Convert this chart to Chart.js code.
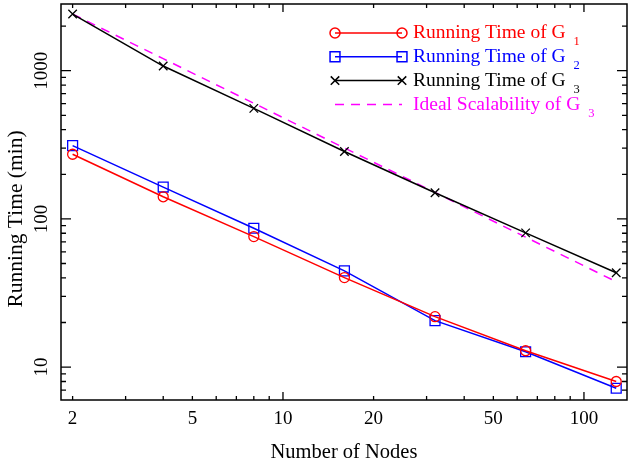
<!DOCTYPE html>
<html>
<head>
<meta charset="utf-8">
<script src="https://cdn.jsdelivr.net/npm/chart.js@4.4.1/dist/chart.umd.min.js"></script>
<style>
  html, body { margin: 0; padding: 0; background: #fff; }
  #wrap { width: 629px; height: 468px; }
</style>
</head>
<body>
<div id="wrap"><canvas id="chartCanvas" width="629" height="468"></canvas></div>
<script>
// data
const nodes = [2, 4, 8, 16, 32, 64, 128];
const timeG1 = [273, 141, 76, 40.2, 21.9, 12.9, 8.0];
const timeG2 = [312, 164, 86.5, 44.6, 20.6, 12.7, 7.2];
const timeG3 = [2410, 1075, 557, 285, 150, 80.5, 43.3];
const idealG3 = [2410, 1205, 603, 301, 151, 75.3, 37.7];

const seriesNames = ["Running Time of G", "Running Time of G", "Running Time of G", "Ideal Scalability of G"];
const seriesSubs = ["1", "2", "3", "3"];

const xTickVals = [2, 3, 4, 5, 6, 7, 8, 9, 10, 20, 30, 40, 50, 60, 70, 80, 90, 100];
const xTickLabels = [2, 5, 10, 20, 50, 100];
const yTickVals = [7, 8, 9, 10, 20, 30, 40, 50, 60, 70, 80, 90, 100, 200, 300, 400, 500, 600, 700, 800, 900, 1000, 2000];
const yTickLabels = [10, 100, 1000];
const majorVals = [10, 100, 1000];
const yTitle = "Running Time (min)";

const serif = "'Liberation Serif', 'DejaVu Serif', serif";

function pts(ys) {
    return nodes.map((n, i) => ({x: n, y: ys[i]}));
}

// draws the frame, inward ticks on all sides, rotated y labels/title and the gnuplot-like legend
const framePlugin = {
    id: 'frame_ticks_legend',
    afterDraw: (chart) => {
        const {ctx, chartArea} = chart;
        const xs = chart.scales.x, ys = chart.scales.y;
        const L = chartArea.left, R = chartArea.right, T = chartArea.top, B = chartArea.bottom;
        ctx.save();
        ctx.strokeStyle = '#000';
        ctx.lineWidth = 1.3;
        ctx.beginPath();
        xTickVals.forEach(v => {
            const px = xs.getPixelForValue(v);
            const len = majorVals.includes(v) ? 8 : 4;
            ctx.moveTo(px, B); ctx.lineTo(px, B - len);
            ctx.moveTo(px, T); ctx.lineTo(px, T + len);
        });
        yTickVals.forEach(v => {
            const py = ys.getPixelForValue(v);
            if (py < T || py > B) return;
            const len = majorVals.includes(v) ? 10 : 5;
            ctx.moveTo(L, py); ctx.lineTo(L + len, py);
            ctx.moveTo(R, py); ctx.lineTo(R - len, py);
        });
        ctx.stroke();
        ctx.lineWidth = 1.5;
        ctx.strokeRect(L, T, R - L, B - T);

        // y tick labels and title, rotated like the original
        ctx.fillStyle = '#000';
        ctx.font = "19px " + serif;
        ctx.textAlign = 'center';
        ctx.textBaseline = 'middle';
        yTickLabels.forEach(v => {
            const py = ys.getPixelForValue(v);
            ctx.save();
            ctx.translate(42, py);
            ctx.rotate(-Math.PI / 2);
            ctx.fillText(String(v), 0, 0);
            ctx.restore();
        });
        ctx.save();
        ctx.font = "21.5px " + serif;
        ctx.translate(16, 219);
        ctx.rotate(-Math.PI / 2);
        ctx.fillText(yTitle, 0, 0);
        ctx.restore();

        // legend
        const x0 = 335, x1 = 402, tx = 413;
        chart.data.datasets.forEach((ds, i) => {
            const y = 33 + i * 23.8;
            ctx.save();
            ctx.strokeStyle = ds.borderColor;
            ctx.lineWidth = ds.borderWidth;
            ctx.setLineDash(ds.borderDash || []);
            ctx.beginPath();
            ctx.moveTo(x0, y); ctx.lineTo(x1, y);
            ctx.stroke();
            ctx.setLineDash([]);
            if (ds.pointRadius > 0) {
                const opts = {pointStyle: ds.pointStyle, radius: ds.pointRadius, borderWidth: ds.borderWidth, rotation: 0};
                ctx.fillStyle = 'rgba(0,0,0,0)';
                Chart.helpers.drawPoint(ctx, opts, x0, y);
                Chart.helpers.drawPoint(ctx, opts, x1, y);
            }
            ctx.fillStyle = ds.borderColor;
            ctx.textAlign = 'left';
            ctx.textBaseline = 'middle';
            ctx.font = "19.5px " + serif;
            ctx.fillText(seriesNames[i], tx, y);
            const w = ctx.measureText(seriesNames[i]).width;
            ctx.font = "12.5px " + serif;
            ctx.fillText(seriesSubs[i], tx + w + 8, y + 9);
            ctx.restore();
        });
        ctx.restore();
    }
};

const canvas = document.getElementById("chartCanvas");

new Chart(canvas, {
    type: 'line',
    plugins: [framePlugin],
    data: {
        datasets: [
            {label: seriesNames[0] + seriesSubs[0], data: pts(timeG1), borderColor: '#ff0000', borderWidth: 1.5,
             pointStyle: 'circle', pointRadius: 5, pointBorderWidth: 1.3, pointBackgroundColor: 'rgba(0,0,0,0)'},
            {label: seriesNames[1] + seriesSubs[1], data: pts(timeG2), borderColor: '#0000ff', borderWidth: 1.5,
             pointStyle: 'rect', pointRadius: 7, pointBorderWidth: 1.3, pointBackgroundColor: 'rgba(0,0,0,0)'},
            {label: seriesNames[2] + seriesSubs[2], data: pts(timeG3), borderColor: '#000000', borderWidth: 1.5,
             pointStyle: 'crossRot', pointRadius: 6, pointBorderWidth: 1.3, pointBackgroundColor: 'rgba(0,0,0,0)'},
            {label: seriesNames[3] + seriesSubs[3], data: pts(idealG3), borderColor: '#ff00ff', borderWidth: 1.5,
             borderDash: [9, 7], pointRadius: 0}
        ]
    },
    options: {
        responsive: false,
        animation: false,
        layout: {autoPadding: false, padding: {top: 4, right: 2, left: 0, bottom: 0}},
        plugins: {legend: {display: false}, tooltip: {enabled: false}},
        scales: {
            x: {
                type: 'logarithmic',
                min: 1.83, max: 139,
                grid: {display: false, drawTicks: false},
                border: {display: false},
                afterBuildTicks: (scale) => { scale.ticks = xTickVals.map(v => ({value: v})); },
                afterFit: (scale) => { scale.height = 68; scale.paddingLeft = 0; scale.paddingRight = 0; },
                ticks: {
                    autoSkip: false, maxRotation: 0, minRotation: 0, padding: 8,
                    color: '#000', font: {family: serif, size: 19},
                    callback: (v) => xTickLabels.includes(v) ? String(v) : ''
                },
                title: {display: true, text: 'Number of Nodes', color: '#000',
                        font: {family: serif, size: 20.5}, padding: {top: 0, bottom: 3}}
            },
            y: {
                type: 'logarithmic',
                min: 6.0, max: 2818,
                grid: {display: false, drawTicks: false},
                border: {display: false},
                afterBuildTicks: (scale) => { scale.ticks = yTickVals.map(v => ({value: v})); },
                afterFit: (scale) => { scale.width = 61; scale.paddingTop = 0; scale.paddingBottom = 0; },
                ticks: {display: false},
                title: {display: false}
            }
        }
    }
});
</script>
</body>
</html>
